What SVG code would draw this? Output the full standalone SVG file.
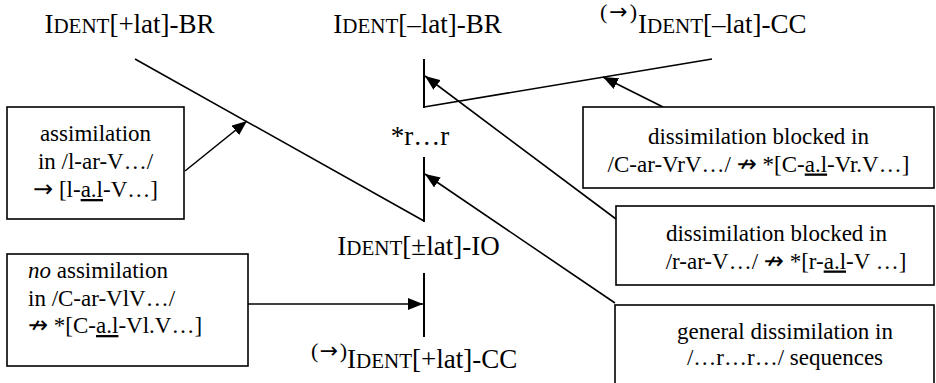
<svg xmlns="http://www.w3.org/2000/svg" width="936" height="383" viewBox="0 0 936 383">
<style>
text{font-family:"Liberation Serif","Times New Roman",serif;fill:#000}
.h{font-size:27px}
.sc{font-size:21px}
.b{font-size:23px}
.sup{font-size:22px}
.ar{font-family:"DejaVu Sans",sans-serif}
.box{fill:#fff;stroke:#000;stroke-width:1.6}
.ln{fill:none;stroke:#000;stroke-width:1.6}
.bar{fill:none;stroke:#000;stroke-width:2}
.u{text-decoration:underline}
</style>
<defs>
<marker id="ah" markerUnits="userSpaceOnUse" markerWidth="16" markerHeight="12" refX="15" refY="6" orient="auto">
<path d="M0,0 L15,6 L0,12 z" fill="#000"/>
</marker>
</defs>
<g id="connectors">
<line class="ln" x1="135" y1="59" x2="424" y2="221"/>
<line class="bar" x1="424" y1="59" x2="424" y2="108"/>
<line class="ln" x1="424" y1="107" x2="712" y2="59"/>
<line class="bar" x1="424" y1="157" x2="424" y2="222"/>
<line class="bar" x1="424" y1="273" x2="424" y2="337"/>
<line class="ln" x1="185" y1="171" x2="247" y2="121" marker-end="url(#ah)"/>
<line class="ln" x1="663" y1="107" x2="603" y2="77" marker-end="url(#ah)"/>
<line class="ln" x1="616" y1="219" x2="425" y2="76" marker-end="url(#ah)"/>
<line class="ln" x1="615" y1="303" x2="425" y2="174" marker-end="url(#ah)"/>
<line class="ln" x1="248" y1="304" x2="423" y2="304" marker-end="url(#ah)"/>
</g>
<g id="ident-plus-br"><text class="h" x="129.5" y="33" text-anchor="middle">I<tspan class="sc">DENT</tspan>[+lat]-BR</text></g>
<g id="ident-minus-br"><text class="h" x="417.5" y="33" text-anchor="middle">I<tspan class="sc">DENT</tspan>[–lat]-BR</text></g>
<g id="ident-minus-cc"><text class="sup" x="600" y="19" textLength="37" lengthAdjust="spacing">(<tspan class="ar" font-size="22">→</tspan>)</text><text class="h" x="638" y="33">I<tspan class="sc">DENT</tspan>[–lat]-CC</text></g>
<g id="star-r-r"><text class="h" x="420" y="145" text-anchor="middle">*r…r</text></g>
<g id="ident-pm-io"><text class="h" x="418.5" y="255" text-anchor="middle">I<tspan class="sc">DENT</tspan>[±lat]-IO</text></g>
<g id="ident-plus-cc"><text class="sup" x="311" y="358" textLength="36" lengthAdjust="spacing">(<tspan class="ar" font-size="22">→</tspan>)</text><text class="h" x="347" y="368">I<tspan class="sc">DENT</tspan>[+lat]-CC</text></g>
<g id="box-assimilation">
<rect class="box" x="7" y="107" width="177" height="112"/>
<text class="b" x="95.5" y="141" text-anchor="middle">assimilation</text>
<text class="b" x="95.5" y="169" text-anchor="middle">in /l-ar-V…/</text>
<text class="b" x="95.5" y="197" text-anchor="middle"><tspan class="ar" font-size="24">→</tspan> [l-<tspan class="u">a.l</tspan>-V…]</text>
</g>
<g id="box-no-assimilation">
<rect class="box" x="7" y="254" width="241" height="112"/>
<text class="b" x="28" y="278"><tspan font-style="italic">no</tspan> assimilation</text>
<text class="b" x="28" y="305.5">in /C-ar-VlV…/</text>
<text class="b" x="28" y="333"><tspan class="ar" font-size="24">↛</tspan> *[C-<tspan class="u">a.l</tspan>-Vl.V…]</text>
</g>
<g id="box-dissim-blocked-1">
<rect class="box" x="583" y="107" width="351" height="81"/>
<text class="b" x="758.5" y="144" text-anchor="middle">dissimilation blocked in</text>
<text class="b" x="758.5" y="171.5" text-anchor="middle">/C-ar-VrV…/ <tspan class="ar" font-size="24">↛</tspan> *[C-<tspan class="u">a.l</tspan>-Vr.V…]</text>
</g>
<g id="box-dissim-blocked-2">
<rect class="box" x="616" y="206" width="318" height="79"/>
<text class="b" x="776.5" y="241" text-anchor="middle">dissimilation blocked in</text>
<text class="b" x="786" y="268.5" text-anchor="middle">/r-ar-V…/ <tspan class="ar" font-size="24">↛</tspan> *[r-<tspan class="u">a.l</tspan>-V …]</text>
</g>
<g id="box-general-dissim">
<rect class="box" x="615" y="305" width="319" height="90"/>
<text class="b" x="785" y="338.5" text-anchor="middle">general dissimilation in</text>
<text class="b" x="785" y="365" text-anchor="middle">/…r…r…/ sequences</text>
</g>
</svg>
